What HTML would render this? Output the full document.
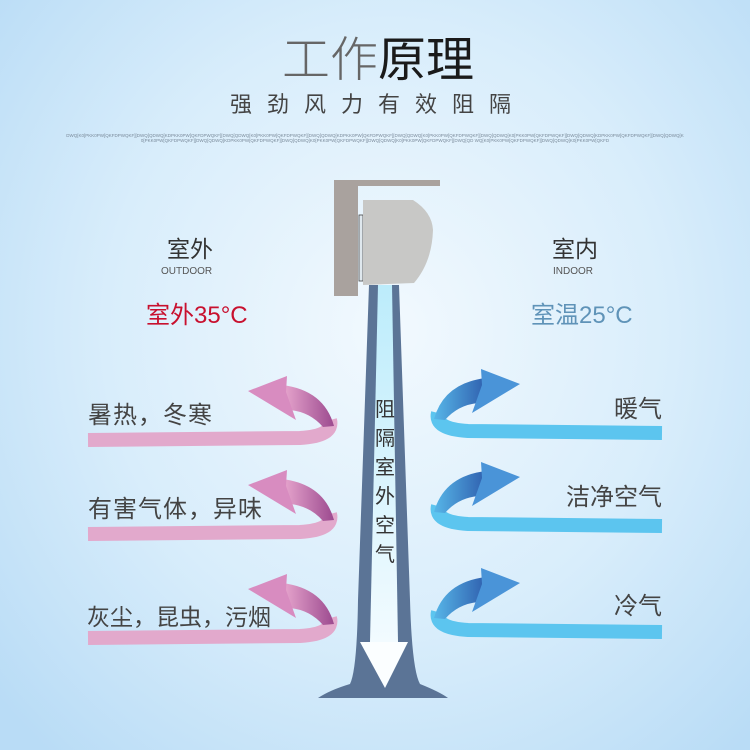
<!DOCTYPE html>
<html><head><meta charset="utf-8"><style>
html,body{margin:0;padding:0}
body{width:750px;height:750px;overflow:hidden;background:radial-gradient(ellipse 520px 560px at 390px 330px,#f2f9fe 0%,#d8edfb 55%,#b9dcf6 100%);font-family:"Liberation Sans","Noto Sans CJK SC",sans-serif;position:relative}
.t{position:absolute;white-space:nowrap;line-height:1}
</style></head><body>
<svg width="750" height="750" style="position:absolute;left:0;top:0">
<defs>
<linearGradient id="pk" x1="0" y1="0" x2="1" y2="0"><stop offset="0" stop-color="#e9a8cf"/><stop offset="1" stop-color="#9c4a8f"/></linearGradient>
<linearGradient id="bl" x1="0" y1="0" x2="1" y2="0"><stop offset="0" stop-color="#2f5fae"/><stop offset="1" stop-color="#57b6e8"/></linearGradient>
<linearGradient id="ch" x1="0" y1="0" x2="0" y2="1"><stop offset="0" stop-color="#bcecfb"/><stop offset="1" stop-color="#f2fbff"/></linearGradient>
<g id="L">
<path d="M88,440 L300,438 Q334,436 330,420" stroke="#e2a9cc" stroke-width="14" fill="none"/>
<path d="M282,385 Q324,390 334,426 L323,427 Q310,412 290,410 Z" fill="url(#pk)"/>
<path d="M248,391 L287,376 L286,392 L296,420 Z" fill="#d88cc0"/>
</g>
<g id="R">
<path d="M106,440 L300,438 Q334,436 330,420" stroke="#5cc5ef" stroke-width="14" fill="none"/>
<path d="M282,385 Q324,390 334,426 L323,427 Q310,412 290,410 Z" fill="url(#bl)"/>
<path d="M248,391 L287,376 L286,392 L296,420 Z" fill="#4a94d8"/>
</g>
</defs>
<use href="#L"/>
<use href="#L" transform="translate(0,94)"/>
<use href="#L" transform="translate(0,198)"/>
<g transform="translate(768,0) scale(-1,1)">
<use href="#R" transform="translate(0,-7)"/>
<use href="#R" transform="translate(0,86)"/>
<use href="#R" transform="translate(0,192)"/>
</g>
<path d="M369,285 L399,285 L410,600 Q412,670 420,684 Q440,692 448,698 L318,698 Q330,690 350,684 Q357,670 358,600 Z" fill="#5b7496"/>
<path d="M378,285 L392,285 L398,642 L370,642 Z" fill="url(#ch)"/>
<path d="M360,642 L408,642 L385,688 Z" fill="#fbfeff"/>
<rect x="334" y="180" width="106" height="6" fill="#a9a29e"/>
<rect x="334" y="180" width="24" height="116" fill="#a9a29e"/>
<rect x="359" y="215" width="4" height="66" fill="#dfe8ee" stroke="#444" stroke-width="0.8"/>
<path d="M363,200 L413,200 Q432,212 433,230 Q432,262 414,283 L363,285 Z" fill="#c8c8c6"/>
</svg>
<div class="t" style="left:282px;top:37px;font-size:48px;color:#666;font-weight:300">工作<b style="color:#1a1a1a">原理</b></div>
<div class="t" style="left:230px;top:94px;font-size:22px;color:#444;letter-spacing:15px">强劲风力有效阻隔</div>
<div class="t" style="left:65px;top:133px;width:620px;white-space:normal;text-align:center;font-size:4.5px;color:#7a8a9a;line-height:5px;word-break:break-all">DWQ[K0[PKK0PW[QKFDPWQKF][DWQ[QDWQ[KDPKK0PW[QKFDPWQKF][DWQ[QDWQ[K0[PKK0PW[QKFDPWQKF][DWQ[QDWQ[KDPKK0PW[QKFDPWQKF][DWQ[QDWQ[K0[PKK0PW[QKFDPWQKF][DWQ[QDWQ[K0[PKK0PW[QKFDPWQKF][DWQ[QDWQ[KDPKK0PW[QKFDPWQKF][DWQ[QDWQ[K0[PKK0PW[QKFDPWQKF][DWQ[QDWQ[KDPKK0PW[QKFDPWQKF][DWQ[QDWQ[K0[PKK0PW[QKFDPWQKF][DWQ[QDWQ[K0[PKK0PW[QKFDPWQKF][DWQ[QD WQ[K0[PKK0PW[QKFDPWQKF][DWQ[QDWQ[K0[PKK0PW[QKFD</div>
<div class="t" style="left:167px;top:238px;font-size:23px;color:#333">室外</div>
<div class="t" style="left:161px;top:267px;font-size:10px;color:#555">OUTDOOR</div>
<div class="t" style="left:146px;top:304px;font-size:24px;color:#c8102e">室外35°C</div>
<div class="t" style="left:552px;top:238px;font-size:23px;color:#333">室内</div>
<div class="t" style="left:553px;top:267px;font-size:10px;color:#555">INDOOR</div>
<div class="t" style="left:531px;top:304px;font-size:24px;color:#5f93b8">室温25°C</div>
<div class="t" style="left:88px;top:404px;font-size:24px;letter-spacing:1px;color:#444">暑热，冬寒</div>
<div class="t" style="left:88px;top:498px;font-size:24px;letter-spacing:1px;color:#444">有害气体，异味</div>
<div class="t" style="left:87px;top:606px;font-size:23px;color:#444">灰尘，昆虫，污烟</div>
<div class="t" style="right:88px;top:398px;font-size:24px;color:#444">暖气</div>
<div class="t" style="right:88px;top:486px;font-size:24px;color:#444">洁净空气</div>
<div class="t" style="right:88px;top:595px;font-size:24px;color:#444">冷气</div>
<div class="t" style="left:374px;top:396px;width:22px;white-space:normal;font-size:20px;line-height:29px;color:#333;text-align:center">阻隔室外空气</div>
</body></html>
